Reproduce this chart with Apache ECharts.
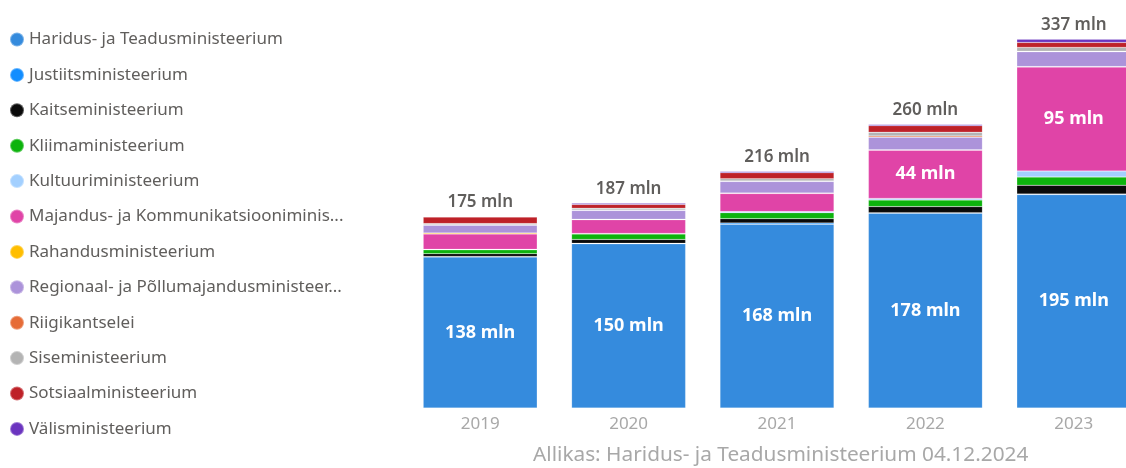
<!DOCTYPE html>
<html><head><meta charset="utf-8">
<script src="https://cdn.jsdelivr.net/npm/echarts@6/dist/echarts.min.js"></script>
<style>html,body{margin:0;padding:0;background:#fff;overflow:hidden;width:1126px;height:468px}#c{width:1150px;height:468px}</style>
</head><body><div id="c"></div>
<script>
const years = ['2019','2020','2021','2022','2023'];
const seriesNames = ['Haridus- ja Teadusministeerium','Justiitsministeerium','Kaitseministeerium','Kliimaministeerium','Kultuuriministeerium','Majandus- ja Kommunikatsiooniministeerium','Rahandusministeerium','Regionaal- ja Põllumajandusministeerium','Riigikantselei','Siseministeerium','Sotsiaalministeerium','Välisministeerium'];
const colors = ['#358BDD','#118DFF','#0A0A0A','#0DB30D','#A3D0FF','#E044A7','#FFBE00','#AC93DA','#E66C37','#B4B4B4','#BE2128','#6B34BF'];
const haridus = [138,150,168,178,195];
const justiits = [0.5,0.5,1,0.5,0.5];
const kaitse = [2.5,3.5,4,5.5,8];
const kliima = [3.5,5,5.5,6,7.5];
const kultuur = [0.5,0.5,1,1.5,5.5];
const majandus = [14,12.5,16.5,44,95];
const rahandus = [1,0.5,0.5,0.5,0.5];
const regionaal = [7,8,10.5,11.5,13.5];
const riigikantselei = [0.5,0.5,0.5,1,0.5];
const sise = [1,1.5,2,3.5,3.5];
const sotsiaal = [6,3.5,5.5,6,4.5];
const valis = [0.5,1,1,1,3];
const totals = [175,187,216,260,337];
const sourceText = 'Allikas: Haridus- ja Teadusministeerium 04.12.2024';

const values = [haridus,justiits,kaitse,kliima,kultuur,majandus,rahandus,regionaal,riigikantselei,sise,sotsiaal,valis];
const FONT = '"Segoe UI","Noto Sans",sans-serif';

const series = seriesNames.map((name,i)=>{
  const s = {name, type:'bar', stack:'t', data:values[i], barWidth:114,
    itemStyle:{color:colors[i], borderColor:'rgba(255,255,255,0.35)', borderWidth:0.5},
    emphasis:{disabled:true}};
  if (i===0 || i===5) {
    s.label = {show:true, position:'inside', color:'#fff', fontFamily:FONT, fontSize:18, fontWeight:'bold',
      formatter:p=> p.value>=30 ? p.value+' mln' : ''};
  }
  if (i===seriesNames.length-1) {
    s.label = {show:true, position:'top', distance:6, color:'#605E5C', fontFamily:FONT, fontSize:17, fontWeight:600,
      formatter:p=> totals[p.dataIndex]+' mln'};
  }
  return s;
});

const chart = echarts.init(document.getElementById('c'));
chart.setOption({
  animation:false,
  color:colors,
  legend:{orient:'vertical', left:9, top:31, padding:0, itemGap:18.4, itemWidth:14, itemHeight:14, icon:'circle',
    textStyle:{fontFamily:FONT, fontSize:17, color:'#605E5C', width:322, overflow:'truncate', ellipsis:'...'},
    data:seriesNames},
  grid:{left:406, width:742, top:14, height:394},
  xAxis:{type:'category', data:years, axisLine:{show:false}, axisTick:{show:false},
    axisLabel:{color:'#A8A8A8', fontFamily:FONT, fontSize:17, margin:8}},
  yAxis:{type:'value', min:0, max:360, show:false, splitLine:{show:false}},
  graphic:[{type:'text', left:533, top:445, style:{text:sourceText, fill:'#A8A8A8', font:'20.8px '+FONT}}],
  series
});
</script></body></html>
